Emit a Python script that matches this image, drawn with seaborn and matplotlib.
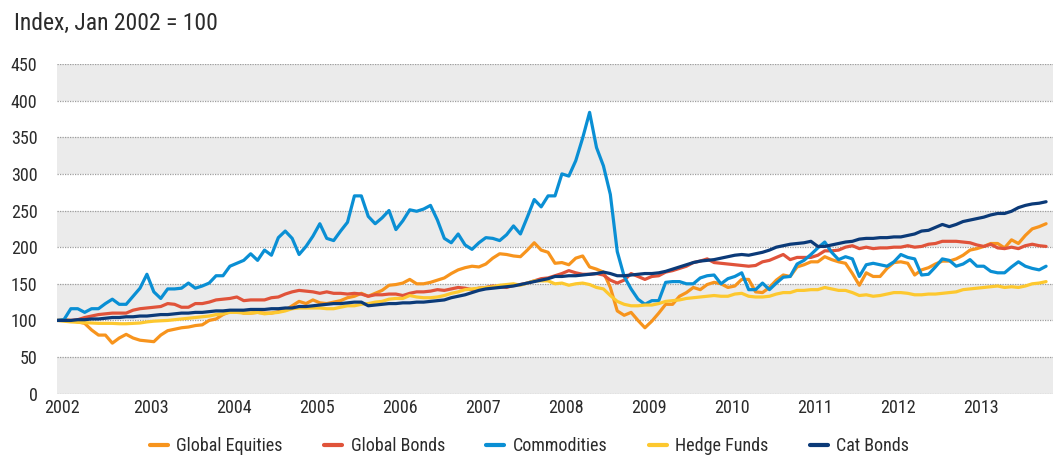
import numpy as np
import pandas as pd
import matplotlib
matplotlib.use('Agg')
import matplotlib.pyplot as plt
import matplotlib.font_manager as fm
import seaborn as sns

# monthly index values, Jan 2002 .. Dec 2013 (Jan 2002 = 100)
start_year = 2002
series_names = ['Global Equities', 'Global Bonds', 'Commodities', 'Hedge Funds', 'Cat Bonds']
series_colors = ['#f7941d', '#e0533a', '#0a8fd4', '#fdc82f', '#0b3a78']
years = list(range(2002, 2014))

global_equities = [
    100, 101, 100, 98, 96, 87, 80, 80, 69, 76, 81, 76, 73, 72, 71, 80, 86, 88, 90, 91, 93, 94, 100, 102, 108,
    112, 113, 110, 110, 111, 110, 110, 112, 114, 120, 126, 123, 128, 124, 123, 125, 127, 131, 133, 137, 133, 137, 141, 148,
    149, 151, 156, 150, 150, 152, 155, 158, 164, 169, 172, 174, 173, 177, 185, 191, 190, 188, 187, 196, 206, 196, 193, 178,
    179, 176, 185, 188, 173, 170, 166, 145, 113, 107, 111, 100, 90, 99, 110, 122, 122, 133, 138, 145, 142, 149, 152, 150,
    145, 147, 156, 156, 139, 138, 145, 155, 162, 160, 173, 176, 180, 180, 187, 183, 180, 178, 164, 148, 165, 160, 160,
    171, 179, 180, 178, 162, 169, 172, 177, 181, 181, 184, 189, 196, 198, 201, 205, 205, 199, 210, 205, 216, 225, 228, 232,
]
global_bonds = [
    100, 100, 100, 101, 104, 106, 108, 109, 110, 110, 110, 114, 116, 117, 118, 119, 123, 122, 118, 118, 123, 123, 125, 128, 129,
    130, 132, 127, 128, 128, 128, 131, 132, 136, 139, 141, 140, 139, 137, 139, 137, 137, 136, 137, 136, 133, 135, 135, 136,
    136, 134, 137, 139, 139, 140, 142, 141, 143, 145, 144, 142, 144, 145, 147, 146, 145, 148, 149, 151, 154, 157, 158, 161,
    164, 168, 165, 163, 163, 164, 162, 155, 151, 155, 164, 160, 156, 160, 161, 166, 168, 171, 174, 179, 181, 184, 179, 178,
    177, 176, 175, 174, 175, 180, 182, 186, 190, 183, 186, 186, 186, 189, 195, 195, 196, 200, 202, 198, 200, 198, 199,
    199, 200, 200, 202, 200, 201, 204, 205, 208, 208, 208, 207, 206, 203, 201, 204, 199, 198, 200, 198, 202, 204, 202, 201,
]
commodities = [
    100, 101, 116, 116, 111, 116, 116, 123, 129, 122, 122, 133, 144, 163, 139, 130, 143, 143, 144, 151, 144, 147, 151, 161, 161,
    174, 178, 182, 191, 182, 196, 189, 213, 222, 212, 190, 201, 215, 232, 212, 209, 222, 234, 270, 270, 242, 232, 240, 250,
    224, 236, 251, 249, 252, 257, 237, 212, 206, 218, 203, 197, 206, 213, 212, 209, 217, 229, 218, 241, 265, 255, 270, 270,
    300, 297, 318, 349, 384, 336, 311, 272, 194, 160, 143, 129, 122, 127, 127, 152, 153, 153, 150, 150, 158, 161, 162, 150,
    157, 160, 165, 142, 142, 151, 142, 151, 159, 160, 177, 182, 190, 199, 207, 193, 183, 187, 184, 160, 176, 178, 176,
    174, 180, 190, 186, 184, 162, 163, 173, 184, 182, 174, 177, 183, 174, 174, 167, 165, 165, 173, 180, 174, 171, 169, 174,
]
hedge_funds = [
    100, 99, 98, 97.5, 97, 96.5, 96, 96, 96, 95.5, 95.5, 96, 96.5, 98, 99, 99.5, 100, 101, 102, 103, 104, 105, 106, 108, 109,
    111, 111, 110, 110, 111, 109, 110, 111, 113, 116, 117, 117, 117, 117, 116, 116, 118, 120, 120, 122, 123, 125, 126, 129,
    130, 130, 134, 132, 131, 131, 132, 134, 137, 139, 142, 143, 144, 145, 146, 148, 149, 150, 148, 151, 154, 154, 154, 150,
    151, 148, 150, 151, 149, 145, 143, 134, 126, 122, 120, 120, 121, 121, 123, 126, 127, 128, 130, 131, 132, 133, 134, 133,
    133, 136, 137, 133, 132, 132, 133, 136, 138, 138, 141, 141, 142, 142, 145, 143, 141, 141, 138, 134, 135, 133, 134,
    136, 138, 138, 137, 135, 135, 136, 136, 137, 138, 139, 142, 143, 144, 145, 146, 147, 145, 146, 145, 147, 150, 151, 153,
]
cat_bonds = [
    100, 100, 100, 101, 101, 102, 102, 103, 104, 104, 105, 105, 106, 106, 107, 108, 108, 109, 110, 110, 111, 111, 112, 113, 113,
    114, 114, 114, 115, 115, 115, 116, 116, 117, 117, 119, 119, 120, 121, 122, 123, 123, 124, 125, 125, 120, 121, 122, 123,
    123, 124, 124, 125, 125, 126, 127, 128, 131, 133, 135, 138, 141, 143, 144, 145, 146, 147, 149, 151, 153, 155, 157, 160,
    160, 161, 161, 162, 163, 164, 166, 164, 161, 161, 162, 163, 164, 164, 165, 167, 170, 173, 176, 179, 181, 182, 183, 185,
    187, 189, 190, 189, 191, 193, 196, 200, 202, 204, 205, 206, 208, 201, 201, 203, 205, 207, 208, 211, 212, 212, 213,
    213, 214, 214, 216, 218, 222, 223, 227, 231, 228, 231, 235, 237, 239, 241, 244, 246, 246, 249, 254, 257, 259, 260, 262,
]

all_values = [global_equities, global_bonds, commodities, hedge_funds, cat_bonds]
n = len(global_equities)
frac_year = start_year + np.arange(n) / 12

df = pd.DataFrame({
    'year': np.tile(frac_year, len(series_names)),
    'value': np.concatenate(all_values),
    'series': np.repeat(series_names, n),
})

sns.set_style('white')

# pick a condensed face if one is installed
names = {f.name for f in fm.fontManager.ttflist}
font, stretch = 'Roboto', 'normal'
for cand in ['Roboto Condensed', 'Liberation Sans Narrow', 'Open Sans Condensed']:
    if cand in names:
        font = cand
        break
else:
    if any(f.name == 'DejaVu Sans' and f.stretch == 'condensed' for f in fm.fontManager.ttflist):
        font, stretch = 'DejaVu Sans', 'condensed'
plt.rcParams['font.family'] = [font, 'DejaVu Sans']
plt.rcParams['font.stretch'] = stretch

text_color = '#2b2b2b'

fig = plt.figure(figsize=(10.59, 4.57), dpi=100)
ax = fig.add_axes([57 / 1059, 1 - 393.7 / 457, 996 / 1059, 329.7 / 457])

# alternating bands and dotted gridlines
for lo in range(0, 450, 100):
    ax.axhspan(lo, lo + 50, color='#ebebeb', lw=0, zorder=0)
for v in range(0, 451, 50):
    ax.axhline(v, color='#9d9d9d', lw=0.9, ls=(0, (1, 1)), zorder=1)

sns.lineplot(data=df, x='year', y='value', hue='series', hue_order=series_names,
             palette=series_colors, linewidth=2.3, ax=ax, zorder=3)

ax.set_xlim(2002, 2014)
ax.set_ylim(0, 450)
ax.set_xlabel('')
ax.set_ylabel('')
for s in ax.spines.values():
    s.set_visible(False)

ax.set_yticks(range(0, 451, 50))
ax.set_yticklabels([str(v) for v in range(0, 451, 50)], fontsize=13, color=text_color)
xt = [y + (0.06 if y == years[0] else 0.13) for y in years]
ax.set_xticks(xt)
ax.set_xticklabels([str(y) for y in years], fontsize=13, color=text_color)
ax.tick_params(axis='y', length=0, pad=14)
ax.tick_params(axis='x', length=0, pad=4)

fig.text(14 / 1059, 1 - 30 / 457, 'Index, Jan 2002 = 100', fontsize=17, color=text_color,
         ha='left', va='baseline')

sns.move_legend(ax, 'center', bbox_to_anchor=(0.5, 1 - 446 / 457), bbox_transform=fig.transFigure,
                ncol=5, frameon=False, title=None, fontsize=13, handlelength=1.0,
                handletextpad=0.45, columnspacing=2.3)
leg = ax.get_legend()
for t in leg.get_texts():
    t.set_color(text_color)
for h in leg.get_lines():
    h.set_linewidth(3)

fig.savefig('out.png', dpi=100)
